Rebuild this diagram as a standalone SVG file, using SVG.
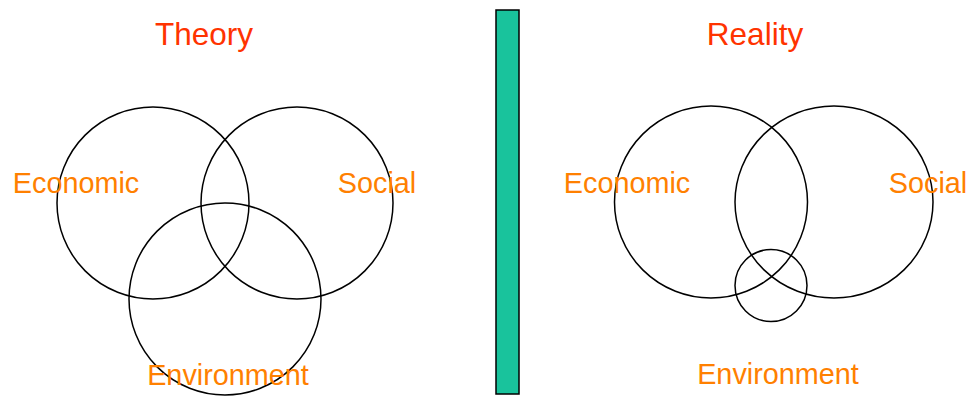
<svg xmlns="http://www.w3.org/2000/svg" width="970" height="396" viewBox="0 0 970 396">
<style>
.c{fill:none;stroke:#000;stroke-width:1.5}
.t{font-family:"Liberation Sans",Arial,sans-serif;font-size:31.5px;fill:#FF3300}
.l{font-family:"Liberation Sans",Arial,sans-serif;font-size:28.8px;fill:#FF8000}
</style>
<rect x="0" y="0" width="970" height="396" fill="#fff"/>
<g id="theory">
<text class="t" x="204" y="45" text-anchor="middle">Theory</text>
<g id="t-economic"><circle class="c" cx="153" cy="203" r="96"/></g>
<g id="t-social"><circle class="c" cx="297" cy="203" r="96"/></g>
<g id="t-environment"><circle class="c" cx="225" cy="299" r="96"/></g>
<text class="l" x="76" y="193" text-anchor="middle">Economic</text>
<text class="l" x="377" y="193" text-anchor="middle">Social</text>
<text class="l" x="228" y="385" text-anchor="middle">Environment</text>
</g>
<g id="divider"><rect x="496" y="10" width="23" height="384" fill="#19C39C" stroke="#000" stroke-width="1.5"/></g>
<g id="reality">
<text class="t" x="755" y="45" text-anchor="middle">Reality</text>
<g id="r-economic"><ellipse class="c" cx="711" cy="202" rx="96.5" ry="96"/></g>
<g id="r-social"><ellipse class="c" cx="834" cy="202" rx="99" ry="96"/></g>
<g id="r-environment"><circle class="c" cx="771" cy="285.5" r="36"/></g>
<text class="l" x="627" y="193" text-anchor="middle">Economic</text>
<text class="l" x="928" y="193" text-anchor="middle">Social</text>
<text class="l" x="778" y="384" text-anchor="middle">Environment</text>
</g>
</svg>
